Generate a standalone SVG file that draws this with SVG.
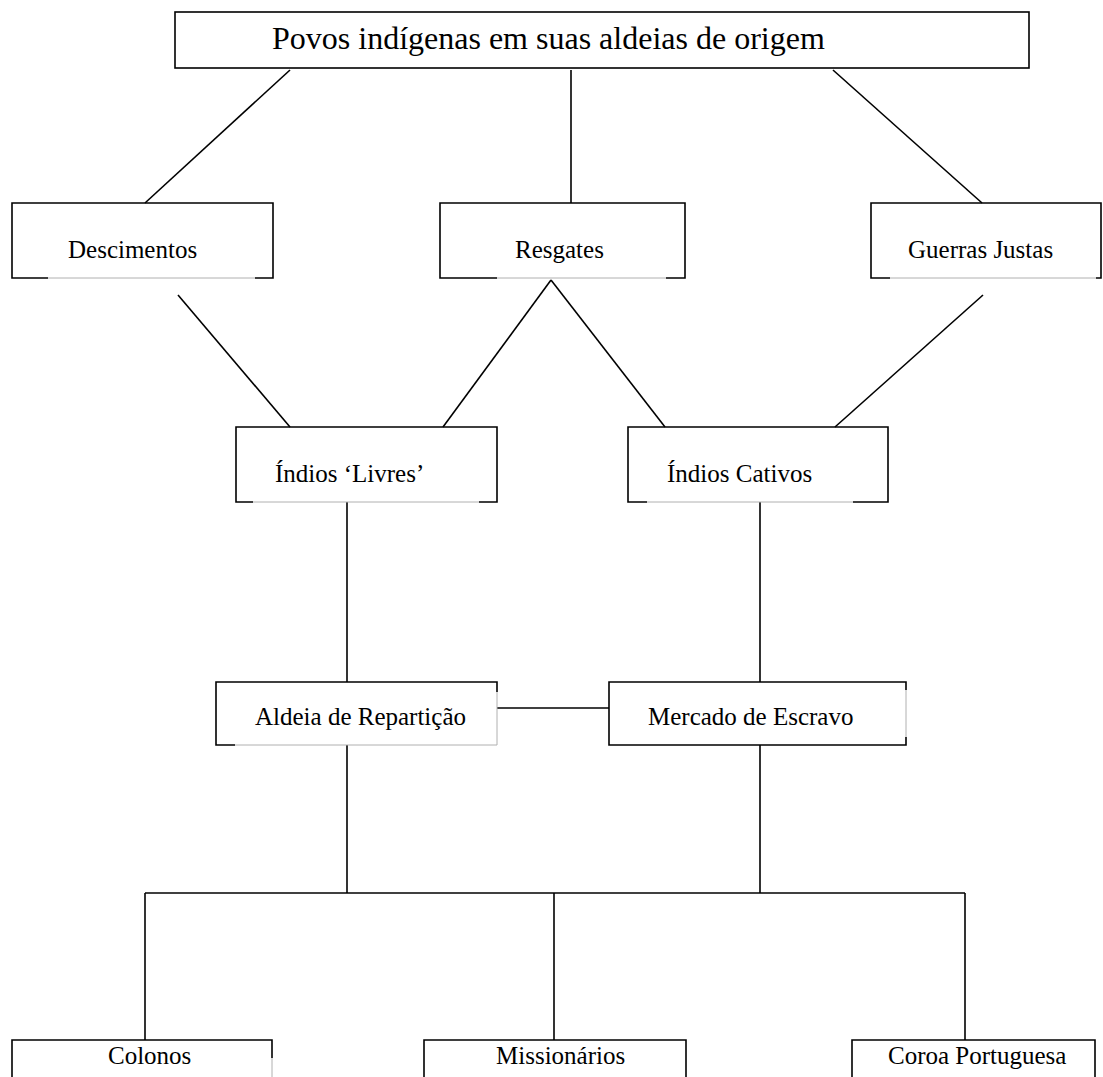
<svg xmlns="http://www.w3.org/2000/svg" width="1103" height="1077" viewBox="0 0 1103 1077">
<style>
  .b{fill:none;stroke:#000;stroke-width:1.6}
  .g{fill:none;stroke:#b0b0b0;stroke-width:1}
  .t{font-family:"Liberation Serif","Times New Roman",serif;font-size:25px;fill:#000}
  .title{font-size:32px}
  #connectors line{stroke:#000;stroke-width:1.6}
</style>
<rect width="1103" height="1077" fill="#fff"/>
<g id="connectors">
  <line x1="290" y1="70" x2="145" y2="203"/>
  <line x1="571" y1="70" x2="571" y2="203"/>
  <line x1="833" y1="70" x2="982" y2="203"/>
  <line x1="178" y1="295" x2="290" y2="427"/>
  <line x1="551" y1="280" x2="443" y2="427"/>
  <line x1="551" y1="280" x2="665" y2="427"/>
  <line x1="983" y1="295" x2="835" y2="427"/>
  <line x1="347" y1="502" x2="347" y2="682"/>
  <line x1="760" y1="502" x2="760" y2="682"/>
  <line x1="497" y1="708" x2="609" y2="708"/>
  <line x1="347" y1="745" x2="347" y2="893"/>
  <line x1="760" y1="745" x2="760" y2="893"/>
  <line x1="145" y1="893" x2="965" y2="893"/>
  <line x1="145" y1="893" x2="145" y2="1040"/>
  <line x1="554" y1="893" x2="554" y2="1040"/>
  <line x1="965" y1="893" x2="965" y2="1040"/>
</g>
<g id="n-povos">
  <rect class="b" x="175" y="12" width="854" height="56"/>
  <text class="t title" x="272" y="49">Povos indígenas em suas aldeias de origem</text>
</g>
<g id="n-descimentos">
  <path class="b" d="M48,278 H12 V203 H273 V278 H255"/>
  <line class="g" x1="48" y1="278" x2="255" y2="278"/>
  <text class="t" x="68" y="258">Descimentos</text>
</g>
<g id="n-resgates">
  <path class="b" d="M497,278 H440 V203 H685 V278 H666"/>
  <line class="g" x1="497" y1="278" x2="666" y2="278"/>
  <text class="t" x="515" y="258">Resgates</text>
</g>
<g id="n-guerras">
  <path class="b" d="M890,278 H871 V203 H1101 V278 H1096"/>
  <line class="g" x1="890" y1="278" x2="1096" y2="278"/>
  <text class="t" x="908" y="258">Guerras Justas</text>
</g>
<g id="n-livres">
  <path class="b" d="M253,502 H236 V427 H497 V502 H479"/>
  <line class="g" x1="253" y1="502" x2="479" y2="502"/>
  <text class="t" x="275" y="482">Índios ‘Livres’</text>
</g>
<g id="n-cativos">
  <path class="b" d="M647,502 H628 V427 H888 V502 H853"/>
  <line class="g" x1="647" y1="502" x2="853" y2="502"/>
  <text class="t" x="667" y="482">Índios Cativos</text>
</g>
<g id="n-aldeia">
  <path class="b" d="M235,745 H216 V682 H497 V692"/>
  <path class="g" d="M497,692 V745 H235"/>
  <text class="t" x="255" y="725">Aldeia de Repartição</text>
</g>
<g id="n-mercado">
  <path class="b" d="M906,690 V682 H609 V745 H906 V737"/>
  <line class="g" x1="906" y1="690" x2="906" y2="737"/>
  <text class="t" x="648" y="725">Mercado de Escravo</text>
</g>
<g id="n-colonos">
  <path class="b" d="M12,1077 V1040 H272 V1058"/>
  <line class="g" x1="272" y1="1058" x2="272" y2="1077"/>
  <text class="t" x="108" y="1064">Colonos</text>
</g>
<g id="n-missionarios">
  <path class="b" d="M424,1077 V1040 H686 V1077"/>
  <text class="t" x="496" y="1064">Missionários</text>
</g>
<g id="n-coroa">
  <path class="b" d="M852,1077 V1040 H1095 V1077"/>
  <text class="t" x="888" y="1064">Coroa Portuguesa</text>
</g>
</svg>
